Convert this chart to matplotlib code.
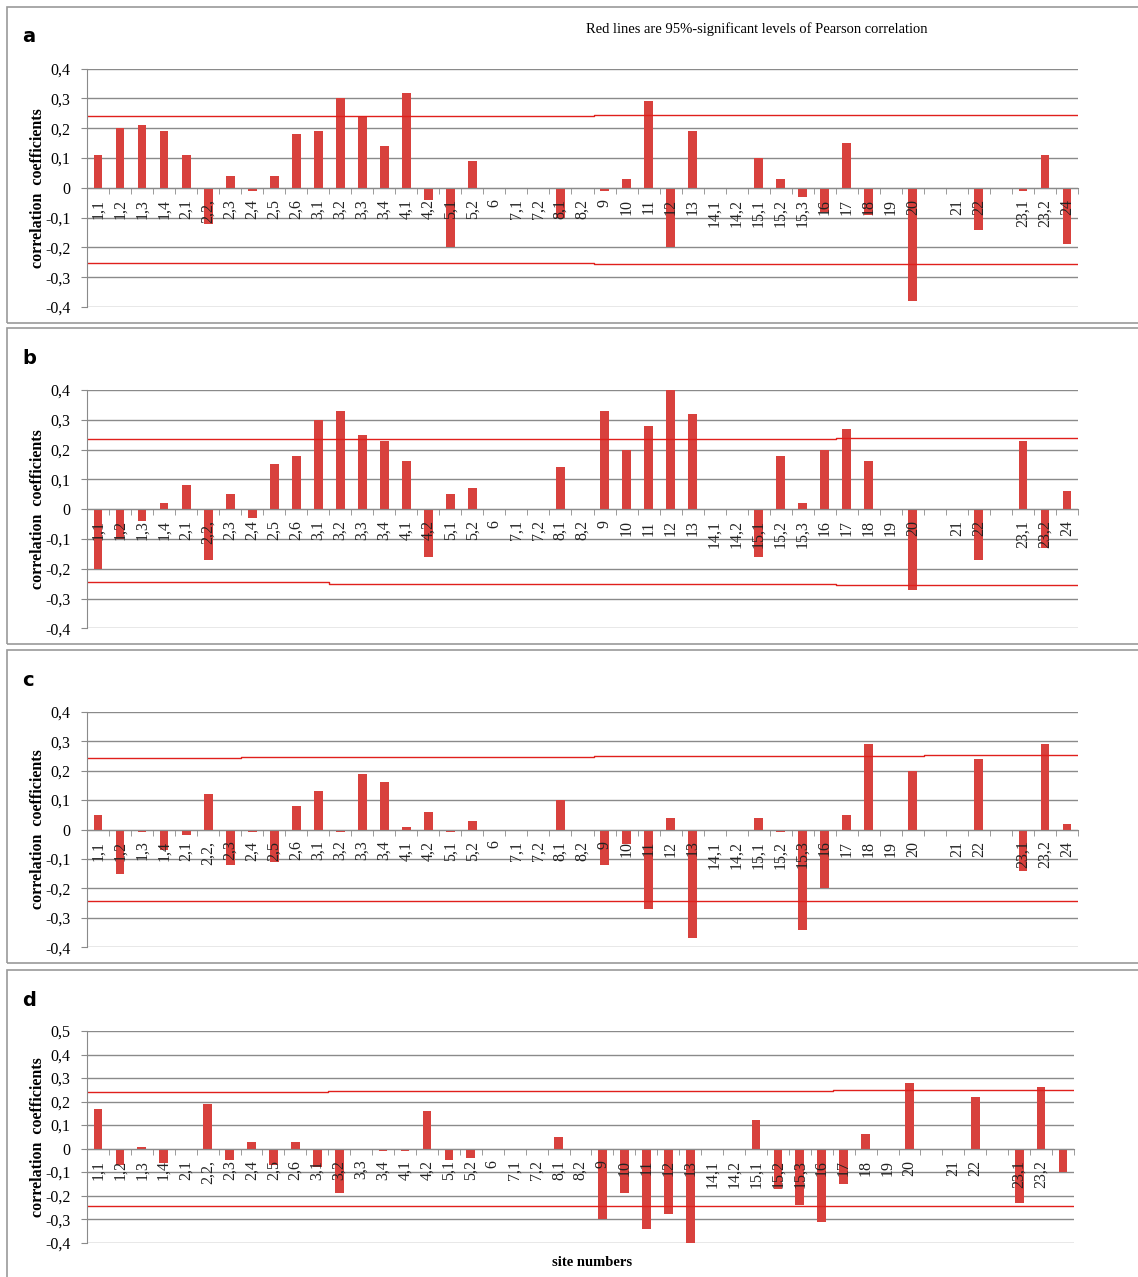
import numpy as np
import matplotlib
matplotlib.use("Agg")
import matplotlib.pyplot as plt
from matplotlib.patches import Rectangle
from matplotlib.ticker import FuncFormatter, MultipleLocator

# site numbers (two empty slots as in the original sheet)
sites = ['1,1', '1,2', '1,3', '1,4', '2,1', '2,2,', '2,3', '2,4', '2,5', '2,6',
         '3,1', '3,2', '3,3', '3,4', '4,1', '4,2', '5,1', '5,2', '6', '7,1',
         '7,2', '8,1', '8,2', '9', '10', '11', '12', '13', '14,1', '14,2',
         '15,1', '15,2', '15,3', '16', '17', '18', '19', '20', '', '21', '22',
         '', '23,1', '23,2', '24']

corr_a = [0.11, 0.20, 0.21, 0.19, 0.11, -0.12, 0.04, -0.01, 0.04, 0.18,
          0.19, 0.30, 0.24, 0.14, 0.32, -0.04, -0.20, 0.09, 0, 0,
          0, -0.10, 0, -0.01, 0.03, 0.29, -0.20, 0.19, 0, 0,
          0.10, 0.03, -0.03, -0.08, 0.15, -0.09, 0, -0.38, np.nan, 0, -0.14,
          np.nan, -0.01, 0.11, -0.19]
corr_b = [-0.20, -0.10, -0.04, 0.02, 0.08, -0.17, 0.05, -0.03, 0.15, 0.18,
          0.30, 0.33, 0.25, 0.23, 0.16, -0.16, 0.05, 0.07, 0, 0,
          0, 0.14, 0, 0.33, 0.20, 0.28, 0.40, 0.32, 0, 0,
          -0.16, 0.18, 0.02, 0.20, 0.27, 0.16, 0, -0.27, np.nan, 0, -0.17,
          np.nan, 0.23, -0.13, 0.06]
corr_c = [0.05, -0.15, -0.01, -0.07, -0.02, 0.12, -0.12, -0.01, -0.11, 0.08,
          0.13, -0.01, 0.19, 0.16, 0.01, 0.06, -0.01, 0.03, 0, 0,
          0, 0.10, 0, -0.12, -0.05, -0.27, 0.04, -0.37, 0, 0,
          0.04, -0.01, -0.34, -0.20, 0.05, 0.29, 0, 0.20, np.nan, 0, 0.24,
          np.nan, -0.14, 0.29, 0.02]
corr_d = [0.17, -0.07, 0.005, -0.06, 0, 0.19, -0.05, 0.03, -0.07, 0.03,
          -0.08, -0.19, 0, -0.01, -0.01, 0.16, -0.05, -0.04, 0, 0,
          0, 0.05, 0, -0.30, -0.19, -0.34, -0.28, -0.40, 0, 0,
          0.12, -0.17, -0.24, -0.31, -0.15, 0.06, 0, 0.28, np.nan, 0, 0.22,
          np.nan, -0.23, 0.26, -0.10]

# 95% significance levels: (number of sites, level) segments
upper_a = [(23, 0.241), (22, 0.245)]
lower_a = [(23, -0.253), (22, -0.256)]
upper_b = [(34, 0.235), (11, 0.239)]
lower_b = [(11, -0.245), (23, -0.250), (11, -0.253)]
upper_c = [(7, 0.242), (16, 0.246), (15, 0.248), (7, 0.252)]
lower_c = [(45, -0.244)]
upper_d = [(11, 0.241), (23, 0.247), (11, 0.250)]
lower_d = [(45, -0.245)]

bar_color = '#d8413d'
line_color = '#e0201c'
grid_color = '#8a8a8a'

W, H = 1138, 1277
fig = plt.figure(figsize=(W / 100, H / 100), dpi=100)

def fx(px):
    return px / W

def fy(px):
    return 1 - px / H

def comma(v, pos):
    if abs(v) < 1e-9:
        return '0'
    return f'{v:.1f}'.replace('.', ',')

def levels(segs):
    return np.concatenate([np.full(n, v) for n, v in segs])

panels = [
    ('a', corr_a, upper_a, lower_a, (7, 323), (68.7, 307), 1078, (-0.4, 0.4)),
    ('b', corr_b, upper_b, lower_b, (328, 644), (390, 628.3), 1078, (-0.4, 0.4)),
    ('c', corr_c, upper_c, lower_c, (650, 963), (711.7, 947.3), 1078, (-0.4, 0.4)),
    ('d', corr_d, upper_d, lower_d, (970, 1290), (1031, 1242.7), 1074, (-0.4, 0.5)),
]

x = np.arange(len(sites))
for name, vals, up, lo, box, area, right, ylim in panels:
    # chart frame
    fig.patches.append(Rectangle((fx(7), fy(box[1])), fx(1150 - 7), fy(box[0]) - fy(box[1]),
                                 transform=fig.transFigure, fill=False,
                                 edgecolor='#9a9a9a', lw=1.2))
    fig.text(fx(22), fy(box[0] + 30), name, fontsize=14, fontweight='bold',
             family='DejaVu Sans', va='center', ha='left')

    ax = fig.add_axes([fx(87), fy(area[1]), fx(right - 87), fy(area[0]) - fy(area[1])])
    ax.set_facecolor('none')
    ax.set_xlim(-0.5, len(sites) - 0.5)
    ax.set_ylim(*ylim)
    ax.yaxis.set_major_locator(MultipleLocator(0.1))
    ax.yaxis.set_major_formatter(FuncFormatter(comma))
    for gy in ax.get_yticks():
        if ylim[0] - 1e-9 <= gy <= ylim[1] + 1e-9:
            ax.axhline(gy, color=grid_color, lw=1, zorder=0.5)

    ax.bar(x, vals, width=0.4, color=bar_color, zorder=1)

    xs = np.concatenate([[-0.5], x, [len(sites) - 0.5]])
    u = levels(up)
    l = levels(lo)
    ax.plot(xs, np.concatenate([[u[0]], u, [u[-1]]]), color=line_color, lw=1,
            drawstyle='steps-mid', zorder=2)
    ax.plot(xs, np.concatenate([[l[0]], l, [l[-1]]]), color=line_color, lw=1,
            drawstyle='steps-mid', zorder=2)

    ax.spines['top'].set_visible(False)
    ax.spines['right'].set_visible(False)
    ax.spines['left'].set_color(grid_color)
    ax.spines['bottom'].set_position(('data', 0))
    ax.spines['bottom'].set_color(grid_color)

    ax.set_xticks(x)
    labels = list(sites)
    if name == 'd':
        labels[-1] = ''
    ax.set_xticklabels(labels, rotation=90, fontsize=11.5, family='Liberation Serif',
                       va='top', ha='center', color='#222222')
    ax.set_xticks(np.arange(len(sites) + 1) - 0.5, minor=True)
    ax.tick_params(axis='x', which='major', length=0, pad=8)
    ax.tick_params(axis='x', which='minor', length=4, color=grid_color, direction='out')
    ax.tick_params(axis='y', length=4, color=grid_color, labelsize=11.5, pad=8)
    for t in ax.get_yticklabels():
        t.set_family('Liberation Serif')

    ax.set_ylabel('correlation  coefficients', fontsize=11.5, fontweight='bold',
                  family='Liberation Serif')
    ax.yaxis.set_label_coords((46 - 87) / (right - 87), 0.5)

fig.text(fx(586), fy(29), 'Red lines are 95%-significant levels of Pearson correlation',
         fontsize=10.5, family='Liberation Serif', va='center', ha='left')
fig.text(fx(592), fy(1262), 'site numbers', fontsize=10.5, fontweight='bold',
         family='Liberation Serif', va='center', ha='center')

fig.savefig('out.png', dpi=100)
